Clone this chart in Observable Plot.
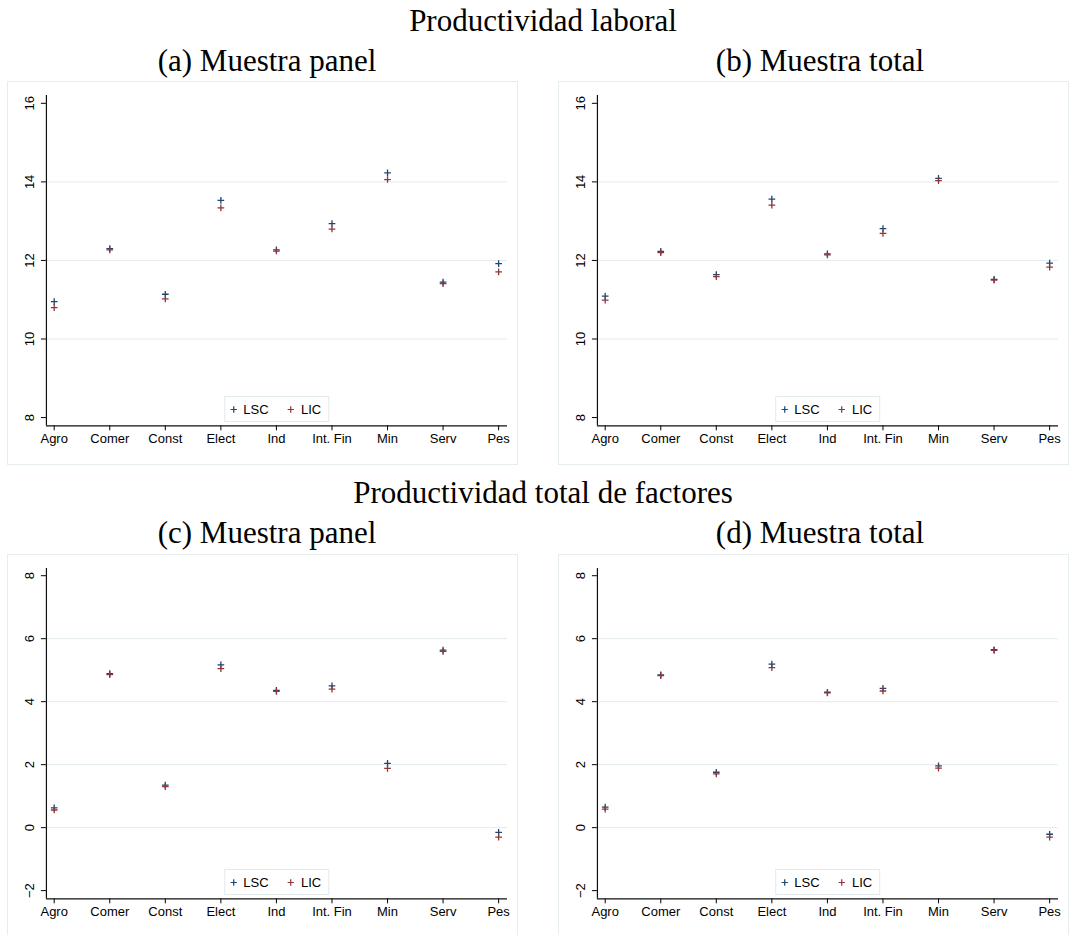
<!DOCTYPE html>
<html>
<head>
<meta charset="utf-8">
<script src="https://cdn.jsdelivr.net/npm/d3@7"></script>
<script src="https://cdn.jsdelivr.net/npm/@observablehq/plot@0.6"></script>
<style>
  html, body { margin: 0; padding: 0; background: #fff; }
  #root { position: relative; width: 1069px; height: 935px; overflow: hidden; background: #fff; }
  .ttl { position: absolute; font-family: "Liberation Serif", "Times New Roman", serif; font-size: 31px; line-height: 31px; color: #000; white-space: nowrap; transform: translateX(-50%); }
  .panel { position: absolute; }
  .panel .frm { position: absolute; left: 0; top: 0; right: 0; bottom: 0; border: 1px solid #e6edee; box-sizing: border-box; }
  .panel svg.plt { position: absolute; left: 0; top: 0; }
  .lgbox { position: absolute; height: 26px; box-sizing: border-box; border: 1px solid #e3eaec; background: #fff; display: flex; align-items: center; transform: translateX(-50%); padding-left: 1px; }
  .lgbox .lgd-swatches { font-family: "Liberation Sans", Arial, sans-serif !important; font-size: 13px !important; color: #000; margin: 0 !important; min-height: 0 !important; }
  .lgbox .lgd-swatches-wrap { min-height: 0 !important; margin: 0 !important; flex-wrap: nowrap !important; }
  .lgbox .lgd-swatch { margin-right: 15px !important; }
  .lgbox .lgd-swatch:last-child { margin-right: 7px !important; }
  .lgbox .lgd-swatch > svg { margin-right: 2.5px !important; }
</style>
</head>
<body>
<div id="root"></div>
<script>
// ---- data ----
const categories = ["Agro", "Comer", "Const", "Elect", "Ind", "Int. Fin", "Min", "Serv", "Pes"];
const series = ["LSC", "LIC"];
const seriesColors = ["#1a476f", "#90353b"];

// Productividad laboral, (a) Muestra panel
const lscLabPanel = [10.95, 12.30, 11.14, 13.53, 12.27, 12.94, 14.23, 11.45, 11.92];
const licLabPanel = [10.80, 12.27, 11.02, 13.34, 12.24, 12.80, 14.06, 11.41, 11.71];
// Productividad laboral, (b) Muestra total
const lscLabTotal = [11.09, 12.23, 11.64, 13.56, 12.17, 12.81, 14.09, 11.52, 11.93];
const licLabTotal = [10.99, 12.20, 11.59, 13.41, 12.14, 12.69, 14.03, 11.50, 11.83];
// Productividad total de factores, (c) Muestra panel
const lscTfpPanel = [0.63, 4.89, 1.35, 5.17, 4.36, 4.50, 2.04, 5.64, -0.15];
const licTfpPanel = [0.56, 4.86, 1.30, 5.05, 4.33, 4.40, 1.88, 5.60, -0.30];
// Productividad total de factores, (d) Muestra total
const lscTfpTotal = [0.65, 4.85, 1.76, 5.19, 4.30, 4.42, 1.96, 5.65, -0.21];
const licTfpTotal = [0.59, 4.83, 1.71, 5.08, 4.28, 4.34, 1.89, 5.63, -0.30];

const yTicksLab = [8, 10, 12, 14, 16];
const gridLab = [10, 12, 14];
const yTicksTfp = [-2, 0, 2, 4, 6, 8];
const gridTfp = [0, 2, 4, 6];

const titles = ["Productividad laboral", "Productividad total de factores"];
const subtitles = ["(a) Muestra panel", "(b) Muestra total", "(c) Muestra panel", "(d) Muestra total"];

// ---- layout ----
const root = document.getElementById("root");
const W = 511, H = 384;
const M = {left: 39, right: 11, top: 14, bottom: 39};
const xDomain = [0.86, 9.16];
const xPos = categories.map((c, i) => i + 1);

function addText(txt, cx, top) {
  const d = document.createElement("div");
  d.className = "ttl";
  d.textContent = txt;
  d.style.left = cx + "px";
  d.style.top = top + "px";
  root.appendChild(d);
}

function makeLegend() {
  return Plot.legend({
    symbol: {domain: series, range: ["plus", "plus"]},
    color: {domain: series, range: seriesColors},
    r: 2.3,
    strokeWidth: 1.3,
    className: "lgd"
  });
}

function panel(left, top, lsc, lic, yDomain, yTicks, grid) {
  const wrap = document.createElement("div");
  wrap.className = "panel";
  wrap.style.left = left + "px";
  wrap.style.top = top + "px";
  wrap.style.width = W + "px";
  wrap.style.height = H + "px";
  const frm = document.createElement("div");
  frm.className = "frm";
  wrap.appendChild(frm);

  const rows = s => categories.map((c, i) => ({cat: c, x: xPos[i], y: s[i]}));

  const chart = Plot.plot({
    width: W + 1,
    height: H,
    marginLeft: M.left,
    marginRight: M.right,
    marginTop: M.top,
    marginBottom: M.bottom,
    style: {fontFamily: "'Liberation Sans', Arial, sans-serif", fontSize: "13px", color: "#000", background: "transparent", overflow: "visible"},
    x: {domain: xDomain, ticks: xPos, tickFormat: v => categories[v - 1], tickSize: 5, tickPadding: 3, label: null},
    y: {domain: yDomain, ticks: yTicks, tickSize: 5, tickRotate: -90, tickPadding: 7, label: null},
    marks: [
      Plot.gridY(grid, {stroke: "#e3ebee", strokeOpacity: 1, strokeWidth: 1}),
      Plot.ruleX([xDomain[0]], {stroke: "#111", strokeWidth: 1.2}),
      Plot.ruleY([yDomain[0]], {stroke: "#111", strokeWidth: 1.2}),
      Plot.dot(rows(lsc), {x: "x", y: "y", symbol: "plus", r: 2.3, stroke: seriesColors[0], strokeWidth: 1.3}),
      Plot.dot(rows(lic), {x: "x", y: "y", symbol: "plus", r: 2.3, stroke: seriesColors[1], strokeWidth: 1.3})
    ]
  });
  chart.classList.add("plt");
  wrap.appendChild(chart);

  const lg = document.createElement("div");
  lg.className = "lgbox";
  lg.style.left = (M.left + (W - M.left - M.right) / 2) + "px";
  lg.style.top = "315px";
  lg.appendChild(makeLegend());
  wrap.appendChild(lg);

  root.appendChild(wrap);
}

addText(titles[0], 543, 5);
addText(subtitles[0], 267, 45);
addText(subtitles[1], 820, 45);
addText(titles[1], 543, 477);
addText(subtitles[2], 267, 517);
addText(subtitles[3], 820, 517);

panel(7, 81, lscLabPanel, licLabPanel, [7.79, 16.2], yTicksLab, gridLab);
panel(558, 81, lscLabTotal, licLabTotal, [7.79, 16.2], yTicksLab, gridLab);
panel(7, 554, lscTfpPanel, licTfpPanel, [-2.26, 8.23], yTicksTfp, gridTfp);
panel(558, 554, lscTfpTotal, licTfpTotal, [-2.26, 8.23], yTicksTfp, gridTfp);
</script>
</body>
</html>
